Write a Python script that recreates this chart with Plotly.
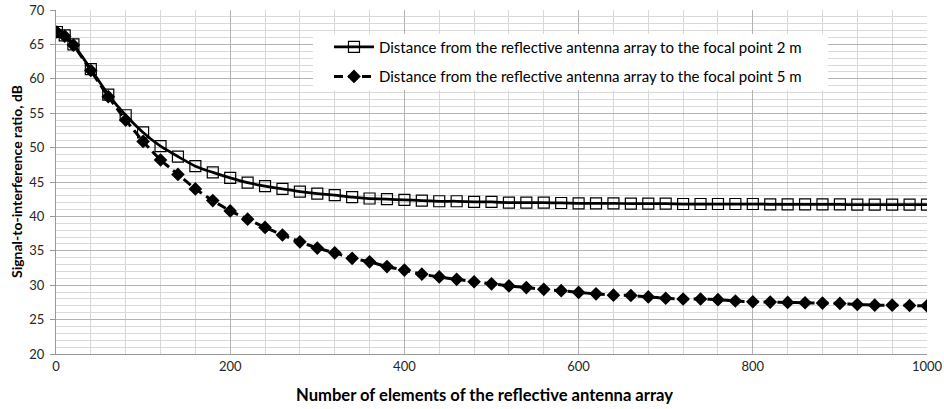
import plotly.graph_objects as go

n_elements = [1, 10, 20, 40, 60, 80, 100, 120, 140, 160, 180, 200, 220, 240, 260, 280, 300,
              320, 340, 360, 380, 400, 420, 440, 460, 480, 500, 520, 540, 560, 580, 600,
              620, 640, 660, 680, 700, 720, 740, 760, 780, 800, 820, 840, 860, 880, 900,
              920, 940, 960, 980, 1000]

sir_2m = [66.8, 66.3, 65.0, 61.4, 57.7, 54.7, 52.2, 50.2, 48.7, 47.3, 46.4, 45.6, 44.9, 44.4,
          44.0, 43.6, 43.3, 43.1, 42.8, 42.6, 42.5, 42.4, 42.3, 42.2, 42.2, 42.1, 42.1, 42.0,
          42.0, 42.0, 41.95, 41.9, 41.9, 41.9, 41.85, 41.85, 41.85, 41.8, 41.8, 41.8, 41.8,
          41.8, 41.75, 41.75, 41.75, 41.75, 41.75, 41.7, 41.7, 41.7, 41.7, 41.7]

sir_5m = [66.8, 66.2, 64.9, 61.2, 57.4, 54.0, 50.9, 48.2, 46.1, 44.0, 42.3, 40.8, 39.6, 38.4,
          37.3, 36.3, 35.4, 34.7, 33.9, 33.4, 32.7, 32.2, 31.6, 31.2, 30.85, 30.5, 30.2, 29.9,
          29.65, 29.4, 29.2, 28.95, 28.75, 28.55, 28.5, 28.3, 28.1, 28.0, 28.0, 27.9, 27.7,
          27.6, 27.55, 27.5, 27.45, 27.4, 27.35, 27.2, 27.1, 27.1, 27.05, 27.0]

legend_names = ["Distance from the reflective antenna array to the focal point 2 m",
                "Distance from the reflective antenna array to the focal point 5 m"]

x_title = "Number of elements of the reflective antenna array"
y_title = "Signal-to-interference ratio, dB"

FONT = "Lato"

fig = go.Figure()
fig.add_trace(go.Scatter(
    x=n_elements, y=sir_2m, name=legend_names[0], mode="lines+markers", legendgroup="a",
    line=dict(color="black", width=2.75, shape="spline", smoothing=0.5),
    marker=dict(symbol="square-open", size=11, color="black", line=dict(width=1.2, color="black")),
))
fig.add_trace(go.Scatter(
    x=n_elements, y=sir_5m, name=legend_names[1], mode="lines+markers", legendgroup="b",
    line=dict(color="black", width=3, dash="9px,5px", shape="spline", smoothing=0.5),
    marker=dict(symbol="diamond", size=10.5, color="black"),
))

# white legend background box
fig.add_shape(type="rect", xref="paper", yref="paper",
              x0=(313 - 56) / 871, x1=(828 - 56) / 871,
              y0=(354 - 90) / 344, y1=(354 - 34) / 344,
              fillcolor="white", line=dict(width=0), layer="above")

fig.update_layout(
    width=944, height=409,
    margin=dict(l=56, r=17, t=10, b=55),
    paper_bgcolor="white", plot_bgcolor="white",
    font=dict(family=FONT, size=13, color="#262626"),
    showlegend=True,
    legend=dict(
        x=0.3134, y=0.94, xanchor="left", yanchor="top",
        bgcolor="rgba(0,0,0,0)", borderwidth=0,
        font=dict(family=FONT, size=15, color="black"),
        tracegroupgap=7, itemwidth=40,
    ),
    xaxis=dict(
        range=[0, 1000], dtick=200, tick0=0, automargin=False,
        showgrid=True, gridcolor="#b3b3b3", gridwidth=1,
        minor=dict(dtick=40, showgrid=True, gridcolor="#d9d9d9", gridwidth=1),
        showline=True, linecolor="#999999", linewidth=1, mirror=False,
        ticks="", zeroline=False,
        tickfont=dict(family=FONT, size=13, color="#262626"),
    ),
    yaxis=dict(
        range=[20, 70], dtick=5, tick0=20, automargin=False,
        showgrid=True, gridcolor="#b3b3b3", gridwidth=1,
        minor=dict(dtick=1, showgrid=True, gridcolor="#d9d9d9", gridwidth=1),
        showline=True, linecolor="#999999", linewidth=1,
        ticks="outside", ticklen=5, tickcolor="#999999", ticklabelstandoff=3,
        zeroline=False,
        tickfont=dict(family=FONT, size=13, color="#262626"),
    ),
    annotations=[
        dict(text="<b>" + x_title + "</b>", xref="paper", yref="paper",
             x=(484 - 56) / 871, y=(354 - 395) / 344, xanchor="center", yanchor="middle",
             showarrow=False, font=dict(family=FONT, size=16.6, color="black")),
        dict(text="<b>" + y_title + "</b>", xref="paper", yref="paper",
             x=(16 - 56) / 871, y=(354 - 182) / 344, xanchor="center", yanchor="middle",
             textangle=-90, showarrow=False, font=dict(family=FONT, size=14, color="black")),
    ],
)

fig.write_html("out.html",
               config={"displayModeBar": False},
               post_script="document.body.style.margin='0';document.body.style.padding='0';"
                           "document.documentElement.style.overflow='hidden';")
